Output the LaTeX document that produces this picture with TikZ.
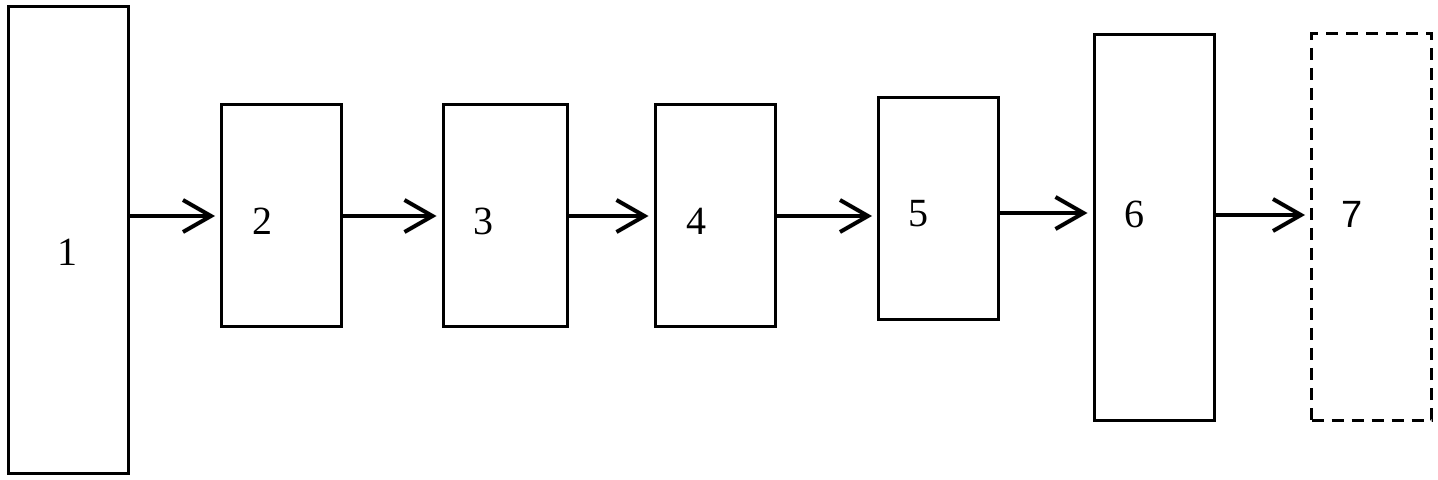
\documentclass[tikz,border=0pt]{standalone}
\usepackage{fontspec}
\setmainfont{Liberation Serif}
\setsansfont{Liberation Sans}
\usetikzlibrary{arrows.meta}

\begin{document}
\begin{tikzpicture}[x=0.5pt, y=-0.5pt, every node/.style={font=\fontsize{20}{24}\selectfont}]
        \useasboundingbox (0,0) rectangle (1438,480);
        \tikzset{blk/.style={draw, line width=1.5pt, minimum width=60pt, inner sep=0pt},
                 arr/.style={line width=2pt, -{Straight Barb[length=14pt, width=16pt, line width=2pt]}, shorten >=2.5pt}}

        \node[blk, minimum height=233pt] (b1) at (68.5,240) {};
        \node[blk, minimum height=111pt] (b2) at (281.5,216) {};
        \node[blk, minimum height=111pt, minimum width=62pt] (b3) at (505,216) {};
        \node[blk, minimum height=111pt] (b4) at (715,216) {};
        \node[blk, minimum height=111pt] (b5) at (938.5,209) {};
        \node[blk, minimum height=193pt] (b6) at (1154,227.5) {};
        \node[blk, minimum height=193pt, dash pattern=on 6pt off 4pt] (b7) at (1371.5,227) {};

        \node (t1) at (67,252) {1};
        \node (t2) at (262,221) {2};
        \node (t3) at (483,221) {3};
        \node (t4) at (696,221) {4};
        \node (t5) at (918,214) {5};
        \node (t6) at (1134,214) {6};
        \node[font=\fontsize{19}{24}\selectfont\sffamily] (t7) at (1352,214) {7};

        \draw[arr] (b1.east |- b2.west) -- (b2.west);
        \draw[arr] (b2.east) -- (b3.west);
        \draw[arr] (b3.east) -- (b4.west);
        \draw[arr] (b4.east |- b4.west) -- (b5.west |- b4.west);
        \draw[arr] (b5.east |- 0,213) -- (b6.west |- 0,213);
        \draw[arr] (b6.east |- 0,215) -- (b7.west |- 0,215);
\end{tikzpicture}
\end{document}
